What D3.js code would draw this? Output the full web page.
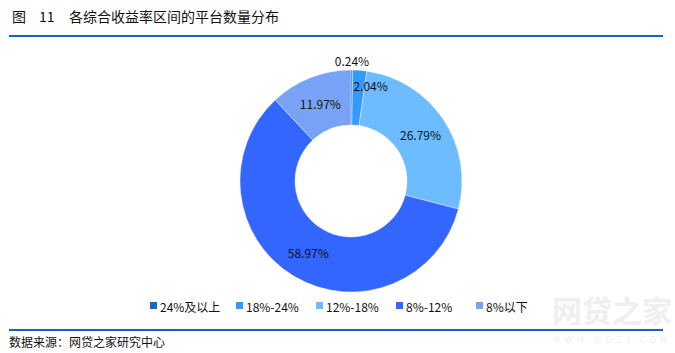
<!DOCTYPE html>
<html><head><meta charset="utf-8">
<script src="https://cdn.jsdelivr.net/npm/d3@7"></script>
<style>body{margin:0;background:#fff;}svg{display:block;font-family:"Noto Sans CJK SC","Microsoft YaHei",sans-serif;}</style>
</head><body>
<svg id="c" width="675" height="353"></svg>
<script>
const titleParts = ["图", "11", "各综合收益率区间的平台数量分布"];
const source = "数据来源：网贷之家研究中心";
const categories = ["24%及以上", "18%-24%", "12%-18%", "8%-12%", "8%以下"];
const values = [0.24, 2.04, 26.79, 58.97, 11.97];
const colors = ["#1a68c6", "#3399ff", "#6dbcff", "#3366ff", "#78a2f5"];
// label placement: radius and pixel nudge (styling)
const labelPlace = [{r:121,dx:0,dy:0},{r:96,dx:12,dy:0},{r:83.5,dx:0,dy:0},{r:83.5,dx:0,dy:0},{r:83.5,dx:0,dy:0}];

const svg = d3.select("#c");

const titleX = [12, 39, 69];
titleParts.forEach((t,i) => {
  svg.append("text").attr("x", titleX[i]).attr("y", 22).attr("font-size", 14).attr("fill", "#111").text(t);
});
svg.append("rect").attr("x", 9).attr("y", 35).attr("width", 654).attr("height", 2).attr("fill", "#1565c0");
svg.append("rect").attr("x", 9).attr("y", 329).attr("width", 654).attr("height", 2).attr("fill", "#1565c0");
svg.append("text").attr("x", 9).attr("y", 347).attr("font-size", 12).attr("fill", "#111").text(source);

// watermark
const wm = svg.append("g").attr("opacity", 0.13);
wm.append("text").attr("x", 612).attr("y", 322).attr("text-anchor","middle").attr("font-size", 30).attr("font-weight","bold").attr("fill","#888").text("网贷之家");
wm.append("text").attr("x", 612).attr("y", 343).attr("text-anchor","middle").attr("font-size", 9).attr("letter-spacing","4").attr("fill","#888").text("WWW.WDZJ.COM");

const cx = 351, cy = 181, rOuter = 111, rInner = 56;
const pie = d3.pie().sort(null).value(d => d)(values);
const arc = d3.arc().innerRadius(rInner).outerRadius(rOuter);
const g = svg.append("g").attr("transform", `translate(${cx},${cy})`);
g.selectAll("path").data(pie).join("path")
  .attr("d", arc).attr("fill", (d,i) => colors[i]).attr("stroke", "#fff").attr("stroke-width", 0.4);

g.selectAll("text.lbl").data(pie).join("text").attr("class","lbl")
  .each(function(d,i){
    const a = (d.startAngle + d.endAngle)/2;
    const p = labelPlace[i];
    const x = Math.sin(a)*p.r + p.dx, y = -Math.cos(a)*p.r + p.dy;
    d3.select(this).attr("x", x).attr("y", y);
  })
  .attr("text-anchor","middle").attr("dominant-baseline","central")
  .attr("font-size", 12).attr("fill", "#111")
  .text(d => d.data.toFixed(2) + "%");

// legend
const legendX = [150, 236, 316, 396, 476];
const lg = svg.append("g");
categories.forEach((c,i) => {
  lg.append("rect").attr("x", legendX[i]).attr("y", 302).attr("width", 7).attr("height", 7).attr("fill", colors[i]);
  lg.append("text").attr("x", legendX[i] + 10).attr("y", 306).attr("dominant-baseline","central")
    .attr("font-size", 12).attr("fill", "#111").text(c);
});
</script>
</body></html>
